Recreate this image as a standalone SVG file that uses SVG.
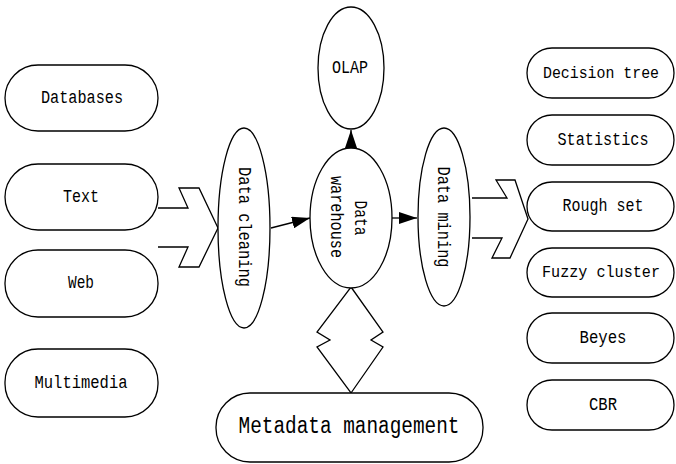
<svg xmlns="http://www.w3.org/2000/svg" width="676" height="464" viewBox="0 0 676 464">
<style>
.n{fill:#fff;stroke:#000;stroke-width:1.3}
.t{font-family:"Liberation Mono",monospace;font-size:19px;fill:#000;text-anchor:middle;dominant-baseline:central}
.s{font-size:17px}
.big{font-size:23px}
.c{fill:none;stroke:#000;stroke-width:1.3}
.h{fill:#fff;stroke:#000;stroke-width:1.3;stroke-linejoin:miter}
</style>
<defs>
<marker id="ah" viewBox="0 0 18 12" refX="18" refY="6" markerWidth="18" markerHeight="12" markerUnits="userSpaceOnUse" orient="auto">
<path d="M0,0 L18,6 L0,12 Z" fill="#000"/>
</marker>
</defs>
<rect width="676" height="464" fill="#fff"/>
<g id="connectors">
<polyline class="h" points="158,208 188,208 179,188 199,188 218,228 199,267 179,267 188,247 158,247"/>
<polyline class="h" points="472,198 507,198 496,180 515,180 528,219 510,258 492,258 502,238 472,238"/>
<polygon class="h" points="351,287 383,332 371,340 383,347 351,393 317,347 330,340 317,332"/>
<line class="c" x1="271" y1="228" x2="310" y2="218" marker-end="url(#ah)"/>
<line class="c" x1="351" y1="149" x2="351" y2="130" marker-end="url(#ah)"/>
<line class="c" x1="388" y1="218" x2="417" y2="218" marker-end="url(#ah)"/>
</g>
<g id="databases"><rect class="n" x="5" y="65" width="153" height="66" rx="33"/><text class="t" x="82" y="98" textLength="82" lengthAdjust="spacingAndGlyphs">Databases</text></g>
<g id="text"><rect class="n" x="5" y="164" width="153" height="66" rx="33"/><text class="t" x="81" y="197" textLength="36" lengthAdjust="spacingAndGlyphs">Text</text></g>
<g id="web"><rect class="n" x="5" y="250" width="153" height="67" rx="33"/><text class="t" x="81" y="283" textLength="26" lengthAdjust="spacingAndGlyphs">Web</text></g>
<g id="multimedia"><rect class="n" x="5" y="349" width="153" height="68" rx="33"/><text class="t" x="81" y="383" textLength="93" lengthAdjust="spacingAndGlyphs">Multimedia</text></g>
<g id="data-cleaning"><ellipse class="n" cx="244" cy="228" rx="26" ry="100"/><text class="t" transform="translate(244,227) rotate(90)" x="0" y="0" textLength="120" lengthAdjust="spacingAndGlyphs">Data cleaning</text></g>
<g id="olap"><ellipse class="n" cx="351" cy="68" rx="33" ry="61"/><text class="t" x="350" y="68" textLength="36" lengthAdjust="spacingAndGlyphs">OLAP</text></g>
<g id="data-warehouse"><ellipse class="n" cx="351" cy="218" rx="41" ry="70"/><text class="t" transform="translate(360,218) rotate(90)" x="0" y="0" textLength="35" lengthAdjust="spacingAndGlyphs">Data</text><text class="t" transform="translate(336,217) rotate(90)" x="0" y="0" textLength="82" lengthAdjust="spacingAndGlyphs">warehouse</text></g>
<g id="data-mining"><ellipse class="n" cx="444" cy="217" rx="26" ry="89"/><text class="t" transform="translate(443,217) rotate(90)" x="0" y="0" textLength="101" lengthAdjust="spacingAndGlyphs">Data mining</text></g>
<g id="decision-tree"><rect class="n" x="527" y="48" width="147" height="50" rx="25"/><text class="t s" x="601" y="73" textLength="116" lengthAdjust="spacingAndGlyphs">Decision tree</text></g>
<g id="statistics"><rect class="n" x="527" y="115" width="147" height="50" rx="25"/><text class="t" x="603" y="140" textLength="91" lengthAdjust="spacingAndGlyphs">Statistics</text></g>
<g id="rough-set"><rect class="n" x="527" y="182" width="147" height="49" rx="25"/><text class="t" x="603" y="206" textLength="81" lengthAdjust="spacingAndGlyphs">Rough set</text></g>
<g id="fuzzy-cluster"><rect class="n" x="527" y="248" width="147" height="49" rx="25"/><text class="t s" x="601" y="272" textLength="118" lengthAdjust="spacingAndGlyphs">Fuzzy cluster</text></g>
<g id="beyes"><rect class="n" x="527" y="313" width="147" height="50" rx="25"/><text class="t" x="603" y="338" textLength="47" lengthAdjust="spacingAndGlyphs">Beyes</text></g>
<g id="cbr"><rect class="n" x="527" y="380" width="147" height="50" rx="25"/><text class="t" x="603" y="405" textLength="28" lengthAdjust="spacingAndGlyphs">CBR</text></g>
<g id="metadata-management"><rect class="n" x="216" y="393" width="267" height="69" rx="34"/><text class="t big" x="349" y="427" textLength="221" lengthAdjust="spacingAndGlyphs">Metadata management</text></g>
</svg>
